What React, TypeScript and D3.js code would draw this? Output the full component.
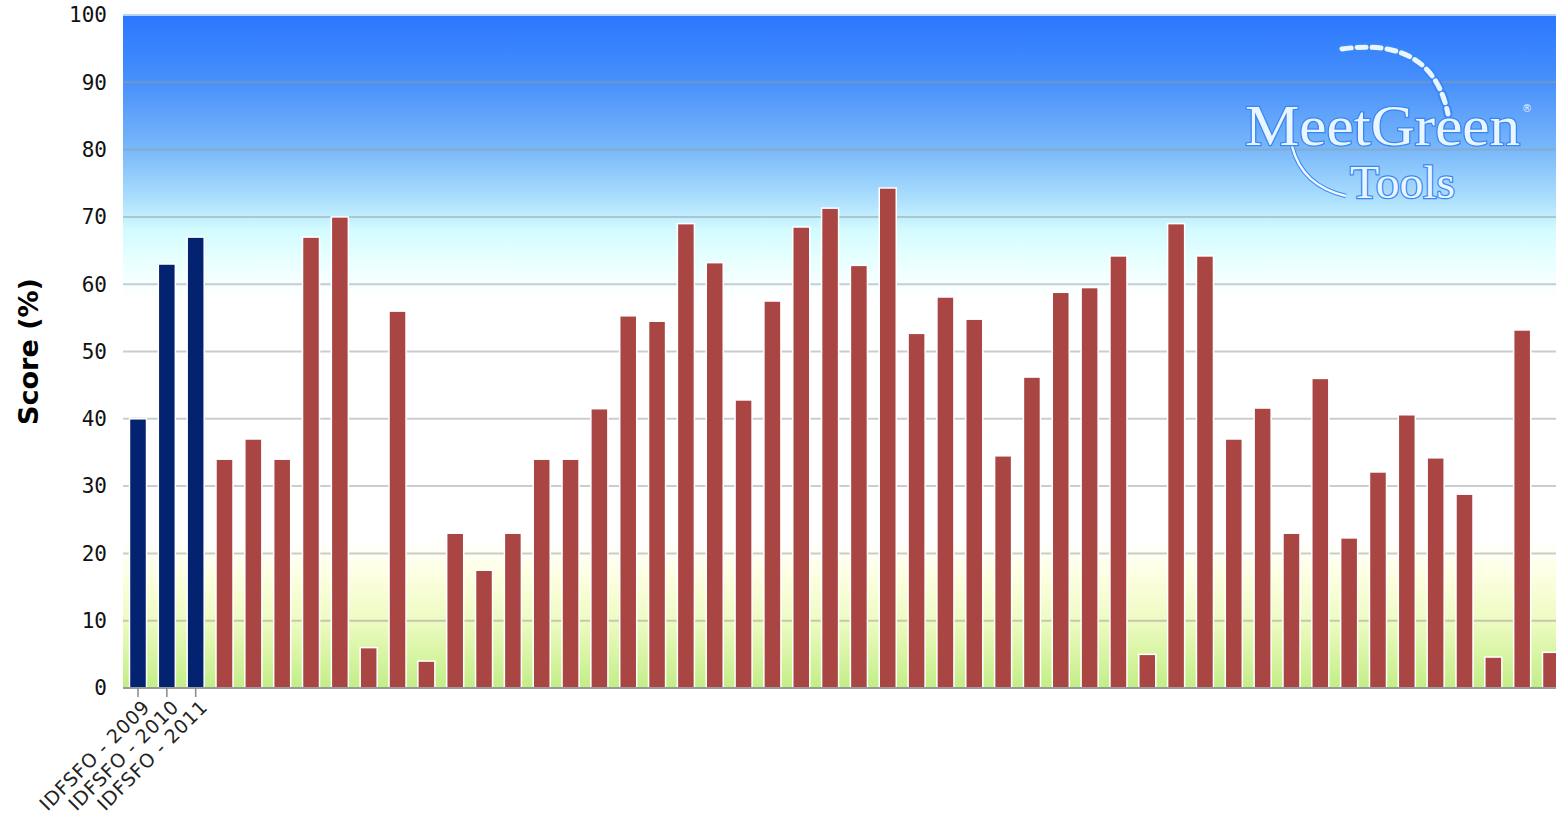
import React from 'react';
import * as d3 from 'd3';

// event labels (only the own events carry a name)
const ownLabels = ['IDFSFO - 2009', 'IDFSFO - 2010', 'IDFSFO - 2011'];
const ownScores = [40, 63, 67];
// benchmark events, unnamed
const otherScores = [
  34, 37, 34, 67, 70, 6, 56, 4, 23, 17.5, 23, 34, 34, 41.5, 55.3, 54.5, 69, 63.2,
  42.8, 57.5, 68.5, 71.3, 62.8, 74.3, 52.7, 58.1, 54.8, 34.5, 46.2, 58.8, 59.5,
  64.2, 5, 69, 64.2, 37, 41.6, 23, 46, 22.3, 32.1, 40.6, 34.2, 28.8, 4.6, 53.2, 5.3,
];
const yTicks = [0, 10, 20, 30, 40, 50, 60, 70, 80, 90, 100];

const W = 1556;
const H = 822;
const margin = { top: 15, left: 123, bottom: 134 };

export default function App() {
  const scores = [...ownScores, ...otherScores];
  const ids = scores.map((_, i) => i);

  const plotBottom = H - margin.bottom;
  const plotRight = 1566;

  const x = d3.scaleBand<number>()
    .domain(ids)
    .range([margin.left, plotRight])
    .paddingInner(0.41)
    .paddingOuter(0.225);

  const y = d3.scaleLinear().domain([0, 100]).range([plotBottom, margin.top]);

  return (
    <div style={{ position: 'fixed', left: 0, top: 0, width: W, height: H, background: '#fff' }}>
      <svg width={W} height={H} style={{ display: 'block' }}>
        <defs>
          <linearGradient id="bg" x1="0" y1={y(100)} x2="0" y2={y(0)} gradientUnits="userSpaceOnUse">
            <stop offset="0" stopColor="#2a77ff" />
            <stop offset="0.1" stopColor="#4890fb" />
            <stop offset="0.2" stopColor="#79b8fa" />
            <stop offset="0.275" stopColor="#ade0fd" />
            <stop offset="0.32" stopColor="#d3fbff" />
            <stop offset="0.365" stopColor="#e8ffff" />
            <stop offset="0.42" stopColor="#ffffff" />
            <stop offset="0.78" stopColor="#ffffff" />
            <stop offset="0.83" stopColor="#fdffe2" />
            <stop offset="0.9" stopColor="#eefbc2" />
            <stop offset="1" stopColor="#c2ee86" />
          </linearGradient>
        </defs>

        {/* plot background */}
        <rect x={margin.left} y={y(100)} width={plotRight - margin.left} height={y(0) - y(100)} fill="url(#bg)" />

        {/* grid */}
        {yTicks.map(t => (
          <line key={t} x1={margin.left} x2={plotRight} y1={y(t)} y2={y(t)}
            stroke={t === 100 ? '#b8d2f7' : 'rgba(150,155,160,0.5)'} strokeWidth={2} />
        ))}

        {/* logo */}
        <g>
          <path d="M1342,49 Q1432,36 1448,114" fill="none" stroke="#3a87f6" strokeWidth={9}
            strokeDasharray="9 6" strokeLinecap="round" />
          <path d="M1342,49 Q1432,36 1448,114" fill="none" stroke="#e9f5ff" strokeWidth={5}
            strokeDasharray="9 6" strokeLinecap="round" />
          <path d="M1292,146 Q1302,186 1346,196" fill="none" stroke="#3a87f6" strokeWidth={4.5} />
          <path d="M1292,146 Q1302,186 1346,196" fill="none" stroke="#eef8ff" strokeWidth={2.5} />
          <text x={1245} y={145} fontFamily="Liberation Serif" fontSize={58} textLength={275}
            lengthAdjust="spacingAndGlyphs" fill="#eaf6ff" stroke="#3a86f4" strokeWidth={2.5}
            style={{ paintOrder: 'stroke' }}>MeetGreen</text>
          <text x={1350} y={198} fontFamily="Liberation Serif" fontSize={47} textLength={105}
            lengthAdjust="spacingAndGlyphs" fill="#eaf6ff" stroke="#3a86f4" strokeWidth={2.5}
            style={{ paintOrder: 'stroke' }}>Tools</text>
          <text x={1522} y={112} fontFamily="DejaVu Sans" fontSize={10} fill="#eaf6ff">®</text>
        </g>

        {/* bars */}
        {scores.map((v, i) => (
          <rect key={i} x={x(i)} y={y(v)} width={x.bandwidth()} height={y(0) - y(v)}
            fill={i < ownScores.length ? '#03226f' : '#a94643'} stroke="#ffffff" strokeWidth={1.5} />
        ))}

        {/* x axis */}
        <line x1={margin.left} x2={plotRight} y1={plotBottom} y2={plotBottom} stroke="#9a9a9a" strokeWidth={2} />
        {ownLabels.map((lab, i) => {
          const cx = (x(i) ?? 0) + x.bandwidth() / 2;
          return (
            <g key={lab}>
              <line x1={cx} x2={cx} y1={plotBottom} y2={plotBottom + 9} stroke="#888" strokeWidth={1.5} />
              <text transform={`translate(${cx + 3},${plotBottom + 10}) rotate(-45)`} textAnchor="end"
                dominantBaseline="hanging" fontFamily="DejaVu Sans" fontSize={19} letterSpacing={0.8}
                fill="#222">{lab}</text>
            </g>
          );
        })}

        {/* y tick labels */}
        {yTicks.map(t => (
          <text key={t} x={107} y={y(t)} dy="0.35em" textAnchor="end" fontFamily="DejaVu Sans Mono"
            fontSize={21} fill="#111">{t}</text>
        ))}

        {/* y title */}
        <text transform={`translate(38,${(y(0) + y(100)) / 2}) rotate(-90)`} textAnchor="middle"
          fontFamily="DejaVu Sans" fontWeight="bold" fontSize={27} fill="#000">Score (%)</text>
      </svg>
    </div>
  );
}
